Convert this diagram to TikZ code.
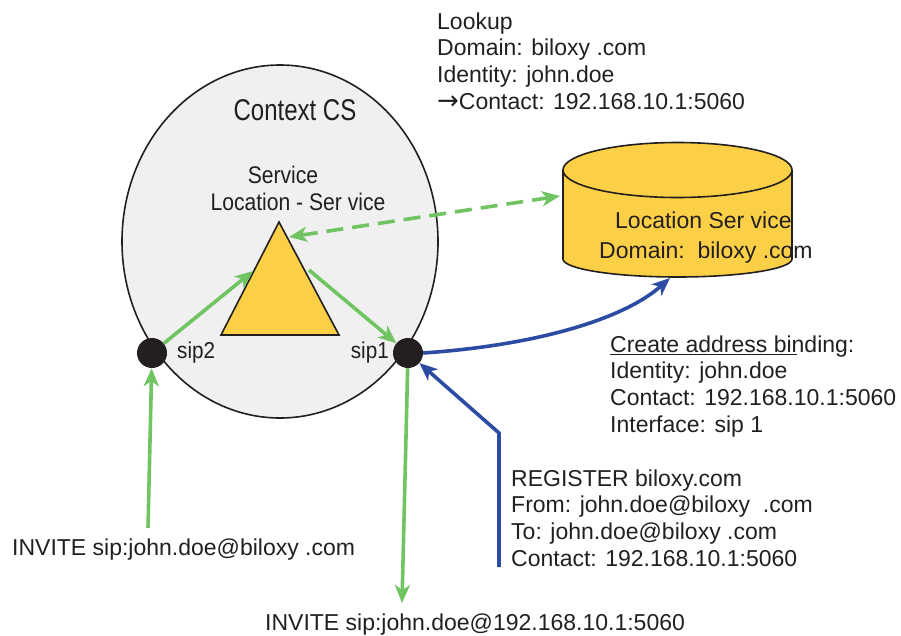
\documentclass[tikz,border=0pt]{standalone}
\usepackage{fontspec}
\usepackage{graphicx}
\setmainfont{Liberation Sans}
\newfontfamily\arrowfont{DejaVu Sans}
\usetikzlibrary{arrows.meta,shapes.geometric}
\definecolor{grn}{RGB}{112,196,98}
\definecolor{blu}{RGB}{44,76,164}
\definecolor{yel}{RGB}{252,208,70}
\definecolor{csgray}{RGB}{240,240,240}
\definecolor{ink}{RGB}{35,31,32}
\tikzset{
  txt/.style={inner sep=0pt, text=ink, font=\fontsize{23pt}{26.7pt}\selectfont},
  blk/.style={txt, align=left, anchor=north west},
  outl/.style={draw=ink, line width=1.6pt},
  sipdot/.style={circle, fill=ink, minimum size=30pt, inner sep=0pt},
  garrow/.style={draw=grn, line width=3.6pt, -{Stealth[length=18pt,width=15pt,inset=5pt]}},
  barrow/.style={draw=blu, line width=3.6pt, -{Stealth[length=18pt,width=15pt,inset=5pt]}},
  gdash/.style={draw=grn, line width=3.6pt, dash pattern=on 17pt off 9pt,
    {Stealth[length=18pt,width=15pt,inset=5pt]}-{Stealth[length=18pt,width=15pt,inset=5pt]}}
}
\begin{document}
\begin{tikzpicture}[x=1pt,y=-1pt]
\useasboundingbox (0,0) rectangle (901,635);
% Context CS ellipse
\node[ellipse, outl, fill=csgray, minimum width=316pt, minimum height=353pt, inner sep=0pt] (cs) at (280,241.5) {};
\node[txt, anchor=base] (cstitle) at (295,120) {\fontsize{30pt}{32pt}\selectfont\scalebox{0.8}[1]{Context CS}};
\node[txt, anchor=base] (svc1) at (283,183) {\fontsize{24pt}{26pt}\selectfont\scalebox{0.88}[1]{Service}};
\node[txt, anchor=base] (svc2) at (298,210) {\fontsize{24pt}{26pt}\selectfont\scalebox{0.88}[1]{Location - Ser vice}};
% triangle
\coordinate (tA) at (279,222);
\coordinate (tL) at (221,335);
\coordinate (tR) at (339,335);
\draw[outl, fill=yel, line join=miter] (tA) -- (tL) -- (tR) -- cycle;
\coordinate (triIn) at (253,271);
\coordinate (triOut) at (309,270);
\coordinate (triTip) at (289,237);
% sip dots
\node[sipdot] (sip2) at (152,353) {};
\node[sipdot] (sip1) at (408,353) {};
\node[txt, anchor=base west] (sip2l) at (177,358) {\scalebox{0.9}[1]{sip2}};
\node[txt, anchor=base east] (sip1l) at (389,358) {\scalebox{0.9}[1]{sip1}};
% cylinder
\fill[yel] (563,170) -- (563,259) arc[start angle=180,end angle=0,x radius=114.5,y radius=18] -- (792,170) -- cycle;
\draw[outl] (563,170) -- (563,259) arc[start angle=180,end angle=0,x radius=114.5,y radius=18] -- (792,170);
\draw[outl, fill=yel] (677.5,170) ellipse [x radius=114.5, y radius=27.5];
\node[txt, anchor=base west] (ls1) at (615,228) {Location Ser vice};
\node[txt, anchor=base west] (ls2) at (599,258) {Domain:\ \ biloxy .com};
\coordinate (cylL) at (560,196);
\coordinate (cylB) at (670,278);
% text blocks
\node[blk] (lookup) at (437,12.2) {Lookup\\Domain: biloxy .com\\Identity: john.doe\\{\arrowfont\fontsize{26pt}{26.7pt}\selectfont →}Contact: 192.168.10.1:5060};
\node[blk] (bind) at (610,335.2) {Create address binding:\\Identity: john.doe\\Contact: 192.168.10.1:5060\\Interface: sip 1};
\draw[draw=ink, line width=1.3pt] (bind.north west) ++(0,19.5) coordinate (ulA) -- ++(187,0) coordinate (ulB);
\node[blk] (reg) at (511,469.2) {REGISTER biloxy.com\\From: john.doe@biloxy\ \ .com\\To: john.doe@biloxy .com\\Contact: 192.168.10.1:5060};
\node[txt, anchor=base west] (inv1) at (12,555) {INVITE sip:john.doe@biloxy .com};
\node[txt, anchor=base west] (inv2) at (265,630) {INVITE sip:john.doe@192.168.10.1:5060};
% connectors
\coordinate (inv1top) at (148,528);
\coordinate (inv2tip) at (402,603);
\coordinate (regbot) at (499,567);
\coordinate (regbend) at (499,433);
\draw[garrow] (inv1top) -- (sip2);
\draw[garrow] (sip2) -- (triIn);
\draw[garrow] (triOut) -- (sip1);
\draw[garrow] (sip1) -- (inv2tip);
\draw[gdash] (triTip) -- (cylL);
\draw[barrow] (sip1.east) .. controls (540,345) and (625,318) .. (cylB);
\draw[barrow, line join=miter] (regbot) -- (regbend) -- (sip1);
\end{tikzpicture}
\end{document}
